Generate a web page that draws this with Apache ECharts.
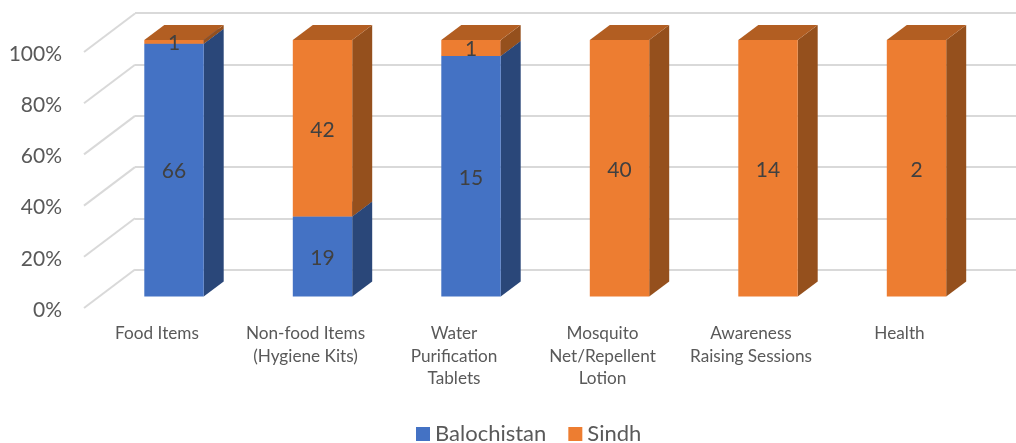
<!DOCTYPE html>
<html>
<head>
<meta charset="utf-8">
<title>Chart</title>
<style>
  html, body { margin: 0; padding: 0; background: #fff; }
  #chart { width: 1016px; height: 443px; }
</style>
</head>
<body>
<div id="chart"></div>
<script src="https://cdn.jsdelivr.net/npm/echarts@6/dist/echarts.min.js"></script>
<script>
const categories = [
  'Food Items',
  'Non-food Items\n(Hygiene Kits)',
  'Water\nPurification\nTablets',
  'Mosquito\nNet/Repellent\nLotion',
  'Awareness\nRaising Sessions',
  'Health'
];
const balochistan = [66, 19, 15, 0, 0, 0];
const sindh = [1, 42, 1, 40, 14, 2];
const percentTicks = [0, 20, 40, 60, 80, 100];

const textFont = 'Lato';
const barDepth = { x: 20, y: -15 };
const wallDepth = { x: 51, y: -38.5 };
// percent labels sit a little below the floor edge they belong to
const labelDrop = 2;

var myChart = echarts.init(document.getElementById('chart'));

// one stacked segment: front face plus side and top faces going back
const renderSegment = (colors) => (params, api) => {
  const count = api.value(3);
  if (!count) return null;
  const lo = api.coord([api.value(0), api.value(1)]);
  const hi = api.coord([api.value(0), api.value(2)]);
  const w = api.size([1, 0])[0] * 0.4;
  const l = lo[0] - w / 2;
  const r = lo[0] + w / 2;
  const dx = barDepth.x;
  const dy = barDepth.y;
  return {
    type: 'group',
    children: [
      {
        type: 'polygon',
        shape: { points: [[r, lo[1]], [r + dx, lo[1] + dy], [r + dx, hi[1] + dy], [r, hi[1]]] },
        style: { fill: colors.side }
      },
      {
        type: 'polygon',
        shape: { points: [[l, hi[1]], [l + dx, hi[1] + dy], [r + dx, hi[1] + dy], [r, hi[1]]] },
        style: { fill: colors.top }
      },
      {
        type: 'rect',
        shape: { x: l, y: hi[1], width: w, height: lo[1] - hi[1] },
        style: { fill: colors.front }
      },
      {
        type: 'text',
        z2: 10,
        style: {
          x: lo[0],
          y: (lo[1] + hi[1]) / 2 + 1.5,
          text: String(count),
          fill: '#404040',
          font: '21px ' + textFont,
          align: 'center',
          verticalAlign: 'middle'
        }
      }
    ]
  };
};

// diagonal gridlines on the left wall
const renderDiagonal = (params, api) => {
  const p = api.coord([0, api.value(0)]);
  const y = p[1] - labelDrop;
  return {
    type: 'line',
    shape: { x1: p[0], y1: y, x2: p[0] + wallDepth.x, y2: y + wallDepth.y },
    style: { stroke: '#D9D9D9', lineWidth: 2 }
  };
};

const segmentData = balochistan.map((b, i) => {
  const total = b + sindh[i];
  return { i, split: b / total * 100, b, s: sindh[i] };
});

const option = {
  animation: false,
  backgroundColor: '#fff',
  textStyle: { fontFamily: textFont },
  legend: {
    left: 411,
    top: 418,
    icon: 'rect',
    itemWidth: 14,
    itemHeight: 14,
    itemGap: 22,
    data: ['Balochistan', 'Sindh'],
    textStyle: { fontSize: 22, color: '#595959', fontFamily: textFont }
  },
  grid: [
    // front plane of the bars
    { left: 99.75, width: 891, top: 40, height: 256.5 },
    // back wall
    { left: 135, right: 0, top: 13, height: 257 },
    // front edge of the floor, carries the percent labels
    { left: 84, width: 51, top: 52 + labelDrop, height: 256 },
    // same bands as the bars but on the floor edge, carries the category labels
    { left: 82.75, width: 891, top: 40, height: 256.5 }
  ],
  xAxis: [
    { gridIndex: 0, type: 'category', data: categories, show: false },
    { gridIndex: 1, type: 'value', show: false },
    { gridIndex: 2, type: 'value', min: 0, max: 1, show: false },
    {
      gridIndex: 3,
      type: 'category',
      data: categories,
      axisLine: { show: false },
      axisTick: { show: false },
      axisLabel: {
        interval: 0,
        margin: 26,
        fontSize: 17.2,
        lineHeight: 22.5,
        color: '#595959',
        fontFamily: textFont
      }
    }
  ],
  yAxis: [
    { gridIndex: 0, type: 'value', min: 0, max: 100, show: false },
    {
      gridIndex: 1,
      type: 'value',
      min: 0,
      max: 100,
      interval: 20,
      axisLine: { show: false },
      axisTick: { show: false },
      axisLabel: { show: false },
      splitLine: { show: true, lineStyle: { color: '#D9D9D9', width: 2 } }
    },
    {
      gridIndex: 2,
      type: 'value',
      min: 0,
      max: 100,
      interval: 20,
      axisLine: { show: false },
      axisTick: { show: false },
      splitLine: { show: false },
      axisLabel: {
        margin: 22,
        fontSize: 21,
        color: '#595959',
        fontFamily: textFont,
        formatter: '{value}%'
      }
    },
    { gridIndex: 3, type: 'value', min: 0, max: 100, show: false }
  ],
  series: [
    {
      type: 'custom',
      name: 'walls',
      xAxisIndex: 2,
      yAxisIndex: 2,
      silent: true,
      renderItem: renderDiagonal,
      data: percentTicks.map(v => [v]),
      encode: { y: 0 }
    },
    {
      type: 'custom',
      name: 'Balochistan',
      xAxisIndex: 0,
      yAxisIndex: 0,
      itemStyle: { color: '#4472C4' },
      renderItem: renderSegment({ front: '#4472C4', side: '#2A4779', top: '#3A62A8' }),
      data: segmentData.map(d => [d.i, 0, d.split, d.b]),
      encode: { x: 0, y: [1, 2] }
    },
    {
      type: 'custom',
      name: 'Sindh',
      xAxisIndex: 0,
      yAxisIndex: 0,
      itemStyle: { color: '#ED7D31' },
      renderItem: renderSegment({ front: '#ED7D31', side: '#95501D', top: '#B25E22' }),
      data: segmentData.map(d => [d.i, d.split, 100, d.s]),
      encode: { x: 0, y: [1, 2] }
    }
  ]
};

myChart.setOption(option);
</script>
</body>
</html>
